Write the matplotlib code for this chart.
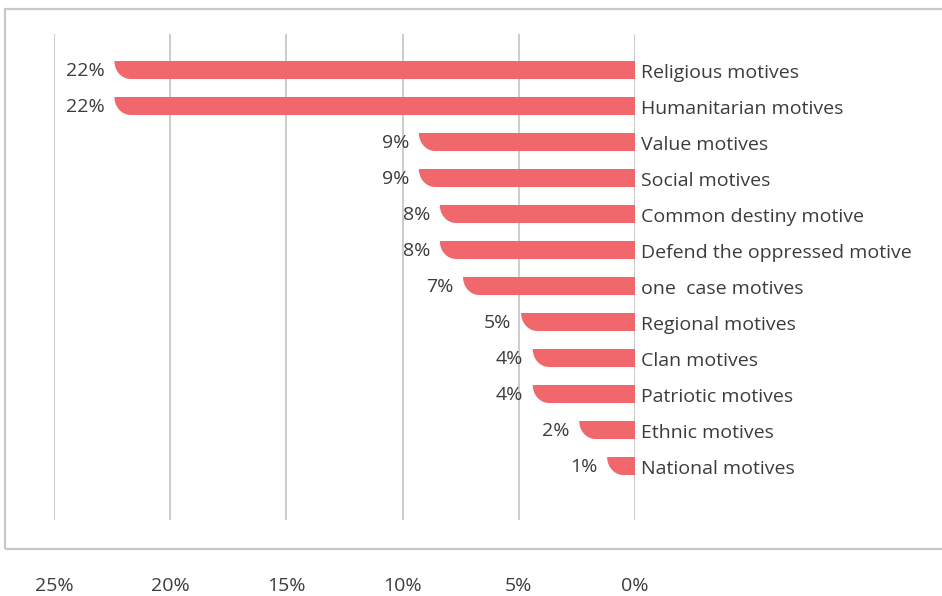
import numpy as np
import matplotlib
matplotlib.use("Agg")
import matplotlib.pyplot as plt
from matplotlib.path import Path
from matplotlib.patches import PathPatch, Rectangle

motives = ["Religious motives", "Humanitarian motives", "Value motives",
           "Social motives", "Common destiny motive",
           "Defend the oppressed motive", "one  case motives",
           "Regional motives", "Clan motives", "Patriotic motives",
           "Ethnic motives", "National motives"]
shares = [22.4, 22.4, 9.3, 9.3, 8.4, 8.4, 7.4, 4.9, 4.4, 4.4, 2.4, 1.2]
xticks = [25, 20, 15, 10, 5, 0]

BAR = "#f0686b"
TEXT = "#3c3c3c"
GRID = "#c8c8c8"

plt.rcParams["font.family"] = ["Open Sans", "DejaVu Sans"]

W, H = 942, 596
fig = plt.figure(figsize=(W / 100, H / 100), dpi=100)

# outer frame, open on the right side
fig.patches.append(Rectangle((5 / W, 1 - 549 / H), 1.2, (549 - 9) / H,
                             transform=fig.transFigure, fill=False,
                             edgecolor=GRID, linewidth=1.6))

ax = fig.add_axes([54 / W, 1 - 520 / H, (635 - 54) / W, (520 - 34) / H])
ax.set_xlim(25, 0)
ax.set_ylim(len(motives) + 0.5, -1)
for s in ax.spines.values():
    s.set_visible(False)
ax.set_yticks([])
ax.set_xticks(xticks)
ax.set_xticklabels([f"{t}%" for t in xticks], color=TEXT, fontsize=14)
ax.tick_params(axis="x", length=0, pad=41)
for t in xticks:
    ax.axvline(t, color=GRID, linewidth=1.3, zorder=0)

h = 0.5
rx = 0.7  # horizontal radius of the rounded lower-left corner
t = np.linspace(0, np.pi / 2, 20)
for i, (name, v) in enumerate(zip(motives, shares)):
    top, bot = i - h / 2, i + h / 2
    # quarter ellipse from (v, top) down to (v - rx, bot)
    ex = (v - rx) + rx * np.cos(t)
    ey = top + h * np.sin(t)
    verts = [(0, top)] + list(zip(ex, ey)) + [(0, bot), (0, top)]
    codes = [Path.MOVETO] + [Path.LINETO] * (len(verts) - 2) + [Path.CLOSEPOLY]
    ax.add_patch(PathPatch(Path(verts, codes), facecolor=BAR,
                           edgecolor="none", zorder=2))
    ax.annotate(f"{v:.0f}%", (v, i), xytext=(-7, -0.5),
                textcoords="offset points", ha="right", va="center",
                color=TEXT, fontsize=14)
    ax.annotate(name, (0, i), xytext=(4, -2.5), textcoords="offset points",
                ha="left", va="center", color=TEXT, fontsize=14,
                annotation_clip=False)

fig.savefig("out.png", dpi=100)
